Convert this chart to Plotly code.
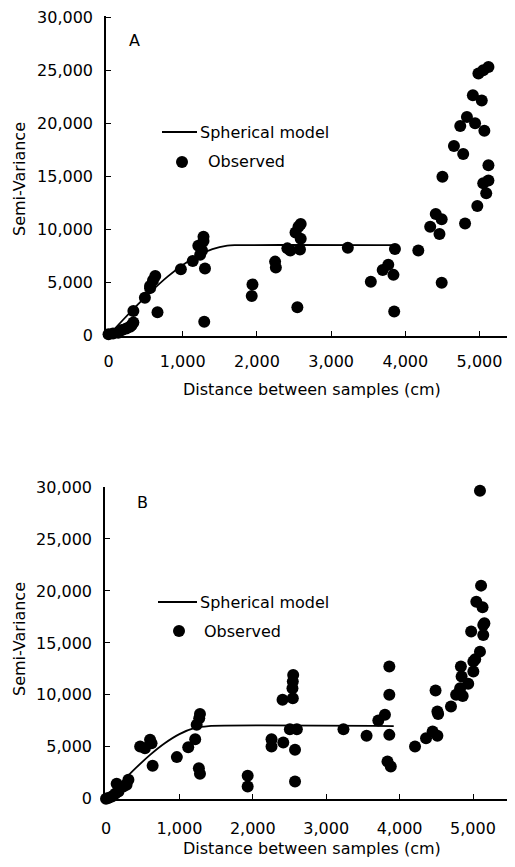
import plotly.graph_objects as go

# page body has an 8px margin; figure sized to fill the rest of the 515x867 window
OFF = 8
W, H = 515 - OFF, 867 - OFF

# ---------------- Panel A data ----------------
a_obs_x = [0, 60, 130, 180, 240, 290, 310, 335, 335, 490, 560, 560, 600, 630, 660,
           975, 1135, 1235, 1260, 1210, 1280, 1280, 1300, 1290, 1940, 1930,
           2245, 2255, 2410, 2450, 2520, 2560, 2590, 2590, 2580, 2545,
           3225, 3860, 3535, 3695, 3770, 3840, 3850, 4175,
           4335, 4410, 4490, 4460, 4490, 4500, 4805, 4655, 4780,
           4740, 4830, 4940, 5065, 4910, 5030, 4985, 5050, 5120,
           5120, 5050, 5120, 5090, 4970]
a_obs_y = [100, 180, 250, 500, 650, 800, 950, 1200, 2300, 3550, 4450, 4650, 5200, 5600, 2170,
           6230, 7010, 7600, 8000, 8450, 8900, 9300, 6300, 1280, 4800, 3700,
           6950, 6400, 8200, 8000, 9700, 10250, 10500, 9100, 8100, 2650,
           8250, 8150, 5050, 6150, 6650, 5700, 2250, 8000,
           10250, 11450, 10950, 9550, 4950, 14950, 10550, 17850, 17100,
           19750, 20600, 20000, 19300, 22650, 22150, 24700, 25000, 25300,
           16050, 14350, 14600, 13400, 12200]
a_model_x = [0, 200, 400, 600, 800, 1000, 1200, 1400, 1600, 1700, 3860]
a_model_y = [0, 1490, 2945, 4310, 5560, 6635, 7505, 8125, 8455, 8500, 8500]

# ---------------- Panel B data ----------------
b_obs_x = [0, 30, 80, 125, 170, 145, 235, 280, 305, 465, 530, 600, 620, 635,
           965, 1120, 1215, 1235, 1270, 1280, 1265, 1280, 1930, 1930,
           2255, 2255, 2415, 2405, 2545, 2550, 2545, 2540, 2505, 2600, 2575, 2575,
           3235, 3550, 3710, 3800, 3860, 3860, 3860, 3835, 3880,
           4210, 4360, 4450, 4515, 4490, 4515, 4525, 4700,
           4770, 4860, 4825, 4845, 4835, 4935, 5005, 5005, 5030, 5095,
           4975, 5140, 5140, 5155, 5045, 5130, 5110, 5095]
b_obs_y = [0, 70, 220, 480, 700, 1440, 1180, 1350, 1830, 5030, 4870, 5670, 5350, 3170,
           4010, 4970, 5740, 7120, 7760, 8170, 2950, 2400, 2210, 1180,
           5740, 5030, 5410, 9520, 9680, 11920, 11280, 10640, 6700, 6700, 4710, 1660,
           6700, 6060, 7530, 8080, 12720, 10000, 6150, 3590, 3110,
           5030, 5830, 6470, 6060, 10410, 8390, 8150, 8870,
           10000, 9900, 10640, 11760, 12720, 11060, 12240, 13200, 13430, 14160,
           16090, 15770, 16730, 16890, 18970, 18430, 20510, 29640]
b_model_x = [0, 200, 400, 600, 800, 1000, 1200, 1400, 3920]
b_model_y = [0, 1490, 2920, 4225, 5345, 6225, 6795, 7000, 7000]

y_ticks = [0, 5000, 10000, 15000, 20000, 25000, 30000]
x_ticks = [0, 1000, 2000, 3000, 4000, 5000]

legend_line = "Spherical model"
legend_dot = "Observed"
x_title = "Distance between samples (cm)"
y_title = "Semi-Variance"
panel_labels = ["A", "B"]

FONT = "DejaVu Sans"
FS = 16


def px(x):
    return (x - OFF) / W


def py(y):
    return 1 - (y - OFF) / H


fig = go.Figure()

fig.add_trace(go.Scatter(x=a_model_x, y=a_model_y, mode="lines", line=dict(color="black", width=1.8, shape="spline", smoothing=0.6),
                         xaxis="x", yaxis="y", showlegend=False, hoverinfo="skip"))
fig.add_trace(go.Scatter(x=a_obs_x, y=a_obs_y, mode="markers", marker=dict(color="black", size=12),
                         xaxis="x", yaxis="y", showlegend=False, cliponaxis=False))
fig.add_trace(go.Scatter(x=b_model_x, y=b_model_y, mode="lines", line=dict(color="black", width=1.8, shape="spline", smoothing=0.6),
                         xaxis="x2", yaxis="y2", showlegend=False, hoverinfo="skip"))
fig.add_trace(go.Scatter(x=b_obs_x, y=b_obs_y, mode="markers", marker=dict(color="black", size=12),
                         xaxis="x2", yaxis="y2", showlegend=False, cliponaxis=False))

axis_common = dict(showgrid=False, zeroline=False, showline=True, linecolor="black", linewidth=1.5,
                   ticks="inside", ticklen=5, tickwidth=1, tickcolor="black", automargin=False,
                   ticklabeloverflow="allow",
                   tickfont=dict(family=FONT, size=FS, color="black"), tickformat=",")

fig.update_layout(
    width=W, height=H, margin=dict(l=0, r=0, t=0, b=0, pad=0, autoexpand=False),
    paper_bgcolor="white", plot_bgcolor="white", showlegend=False,
    xaxis=dict(domain=[px(106), px(513)], range=[-34, 5451], anchor="y", tickvals=x_ticks,
               ticklabelstandoff=10, **axis_common),
    yaxis=dict(domain=[py(336), py(16)], range=[-66, 30120], anchor="x", tickvals=y_ticks,
               ticklabelstandoff=8, **axis_common),
    xaxis2=dict(domain=[px(105), px(513)], range=[-14, 5545], anchor="y2", tickvals=x_ticks,
                ticklabelstandoff=14, **axis_common),
    yaxis2=dict(domain=[py(799), py(487)], range=[-20, 30000], anchor="x2", tickvals=y_ticks,
                ticklabelstandoff=8, **axis_common),
)

font = dict(family=FONT, size=FS, color="black")
ann = []
# axis titles
ann.append(dict(x=px(312), y=py(390), text=x_title, showarrow=False, xref="paper", yref="paper", font=font, xanchor="center", yanchor="middle"))
ann.append(dict(x=px(312), y=py(848), text=x_title, showarrow=False, xref="paper", yref="paper", font=font, xanchor="center", yanchor="middle"))
ann.append(dict(x=px(19), y=py(179), text=y_title, showarrow=False, xref="paper", yref="paper", font=font, textangle=-90, xanchor="center", yanchor="middle"))
ann.append(dict(x=px(19), y=py(639), text=y_title, showarrow=False, xref="paper", yref="paper", font=font, textangle=-90, xanchor="center", yanchor="middle"))
# panel letters
ann.append(dict(x=px(134), y=py(40), text=panel_labels[0], showarrow=False, xref="paper", yref="paper", font=font, xanchor="center", yanchor="middle"))
ann.append(dict(x=px(142), y=py(502), text=panel_labels[1], showarrow=False, xref="paper", yref="paper", font=font, xanchor="center", yanchor="middle"))
# legends text
ann.append(dict(x=px(198), y=py(132), text=legend_line, showarrow=False, xref="paper", yref="paper", font=font, xanchor="left", yanchor="middle"))
ann.append(dict(x=px(206), y=py(162), text=legend_dot, showarrow=False, xref="paper", yref="paper", font=font, xanchor="left", yanchor="middle"))
ann.append(dict(x=px(198), y=py(602), text=legend_line, showarrow=False, xref="paper", yref="paper", font=font, xanchor="left", yanchor="middle"))
ann.append(dict(x=px(202), y=py(631), text=legend_dot, showarrow=False, xref="paper", yref="paper", font=font, xanchor="left", yanchor="middle"))

shapes = []
shapes.append(dict(type="line", xref="paper", yref="paper", x0=px(162), x1=px(197), y0=py(132), y1=py(132), line=dict(color="black", width=1.8)))
shapes.append(dict(type="line", xref="paper", yref="paper", x0=px(158), x1=px(197), y0=py(602), y1=py(602), line=dict(color="black", width=1.8)))
r = 6
for cx, cy in [(182, 162), (179, 631)]:
    shapes.append(dict(type="circle", xref="paper", yref="paper", x0=px(cx - r), x1=px(cx + r), y0=py(cy + r), y1=py(cy - r),
                       fillcolor="black", line=dict(color="black", width=0)))

fig.update_layout(annotations=ann, shapes=shapes)
fig.write_html("out.html")
